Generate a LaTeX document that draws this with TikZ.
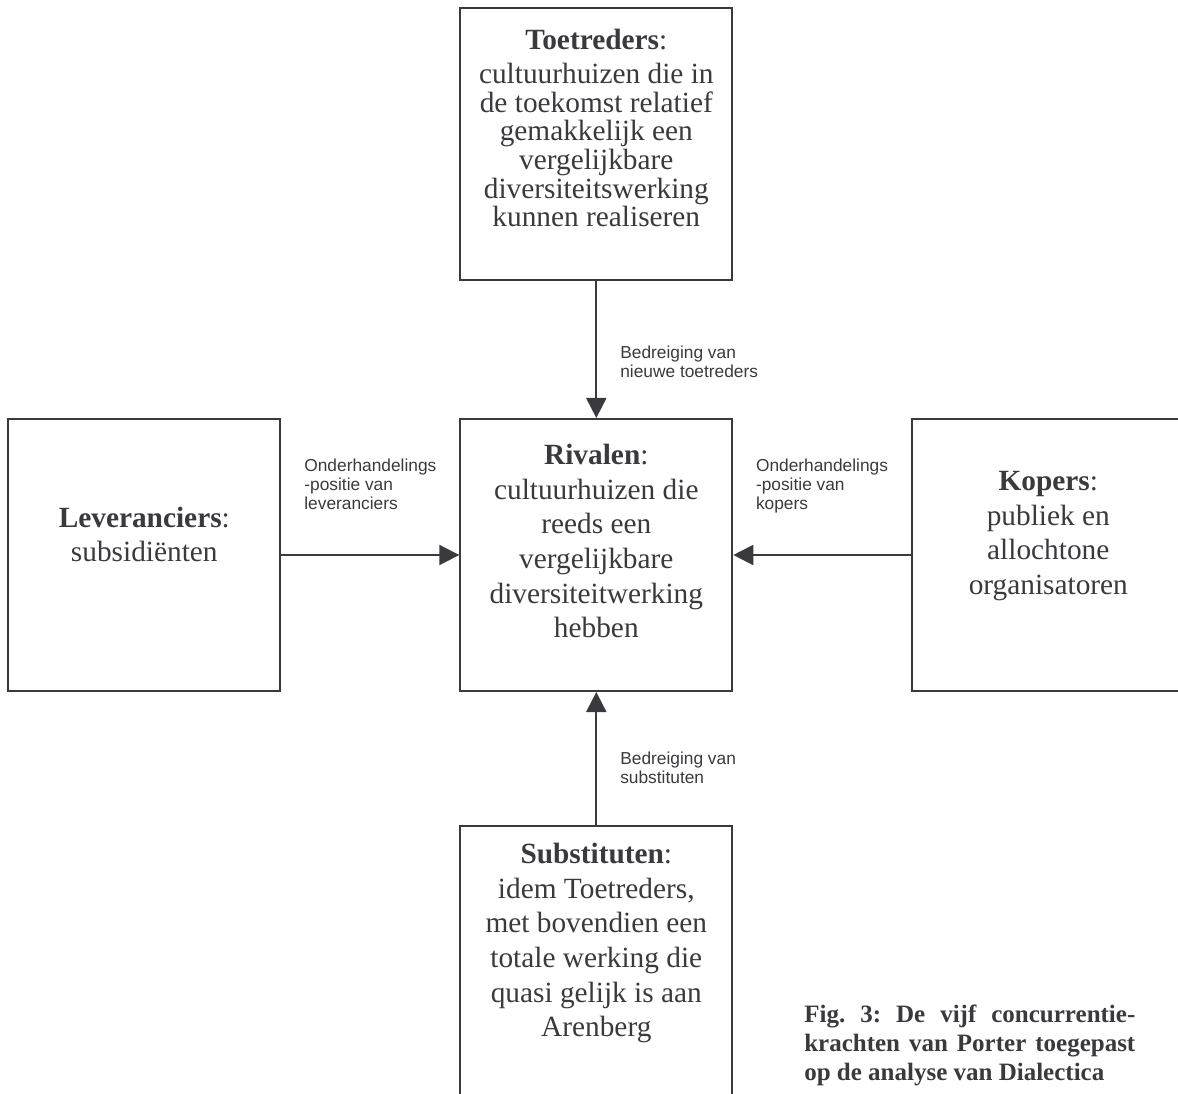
\documentclass[tikz,border=0pt]{standalone}
\usepackage{fontspec}
\setmainfont{Liberation Serif}
\newfontfamily\arialfont{Liberation Sans}
\usetikzlibrary{positioning,arrows.meta}
\definecolor{inkt}{RGB}{58,58,62}
\frenchspacing

\begin{document}
\begin{tikzpicture}[x=0.75pt,y=-0.75pt,node distance=308.25pt and 339pt,on grid,
        color=inkt,line width=1.5pt,>={Triangle[length=15pt,width=15pt]},
        kader/.style={draw,minimum width=204pt,minimum height=204pt,inner sep=0pt},
        tekst/.style={anchor=north,align=center,inner sep=0pt,font=\fontsize{22}{26}\selectfont},
        etiket/.style={anchor=north west,align=left,inner sep=0pt,font=\arialfont\fontsize{13}{14.3}\selectfont},
        bijschrift/.style={anchor=north west,text width=248.25pt,align=justify,inner sep=0pt,
            font=\bfseries\fontsize{18.75}{21.75}\selectfont}]
        \clip (0,0) rectangle (1178,1094);
        \node[kader] (riv) at (596.3,555) {};
        \node[kader] (toe) [above=of riv] {};
        \node[kader] (lev) [left=of riv] {};
        \node[kader] (kop) [right=of riv] {};
        \node[kader] (sub) [below=305pt of riv] {};
        \node[tekst] (rivtxt) at ([yshift=-18.8pt]riv.north)
            {\textbf{Rivalen}:\\cultuurhuizen die\\reeds een\\vergelijkbare\\diversiteitwerking\\hebben};
        \node[tekst,font=\fontsize{22}{21.5}\selectfont] (toetxt) at ([yshift=-15.75pt]toe.north)
            {\textbf{Toetreders}:\\[4pt]cultuurhuizen die in\\de toekomst relatief\\gemakkelijk een\\vergelijkbare\\diversiteitswerking\\kunnen realiseren};
        \node[tekst] (levtxt) at ([yshift=-65.9pt]lev.north) {\textbf{Leveranciers}:\\subsidiënten};
        \node[tekst] (koptxt) at ([yshift=-39.1pt]kop.north) {\textbf{Kopers}:\\publiek en\\allochtone\\organisatoren};
        \node[tekst] (subtxt) at ([yshift=-13.2pt]sub.north)
            {\textbf{Substituten}:\\idem Toetreders,\\met bovendien een\\totale werking die\\quasi gelijk is aan\\Arenberg};
        \path[->]
        (toe) edge node[etiket,pos=0.466,xshift=17.25pt] {Bedreiging van\\nieuwe toetreders} (riv)
        (sub) edge node[etiket,pos=0.556,xshift=17.25pt] {Bedreiging van\\substituten} (riv)
        (lev) edge node[etiket,pos=0.124,yshift=72.75pt] {Onderhandelings\\-positie van\\leveranciers} (riv)
        (kop) edge node[etiket,pos=0.878,yshift=72.75pt] {Onderhandelings\\-positie van\\kopers} (riv);
        \node[bijschrift] (fig) at (803.3,1003.4)
            {Fig. 3: De vijf concurrentie-\linebreak krachten van Porter toegepast\linebreak op de analyse van Dialectica};
\end{tikzpicture}
\end{document}
